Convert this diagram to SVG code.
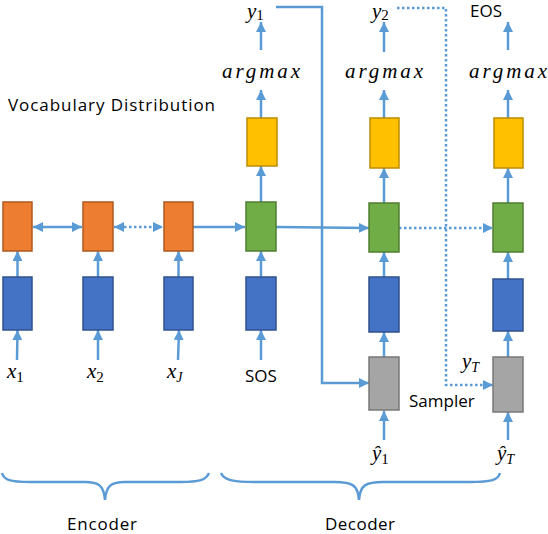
<svg xmlns="http://www.w3.org/2000/svg" width="548" height="534" viewBox="0 0 548 534">
<style>
.ln{stroke:#5B9BD5;stroke-width:2.5;fill:none}
.dt{stroke:#5B9BD5;stroke-width:2.5;fill:none;stroke-dasharray:2.5 2.5}
.or{fill:#ED7D31;stroke:#AE5A21;stroke-width:1.5}
.bl{fill:#4472C4;stroke:#2F528F;stroke-width:1.5}
.gr{fill:#70AD47;stroke:#507E32;stroke-width:1.5}
.ye{fill:#FFC000;stroke:#BC8C00;stroke-width:1.5}
.gy{fill:#A5A5A5;stroke:#787878;stroke-width:1.5}
.t{font-family:"Open Sans","Liberation Sans",sans-serif;font-size:17px;fill:#000}
.m{font-family:"Liberation Serif",serif;font-style:italic;font-size:21px;fill:#000}
.s{font-family:"Liberation Serif",serif;font-style:normal;font-size:15px;fill:#000}
.si{font-family:"Liberation Serif",serif;font-style:italic;font-size:14px;fill:#000}
</style>
<defs>
<marker id="ah" viewBox="0 0 10 10" refX="10" refY="5" markerWidth="4" markerHeight="4" orient="auto-start-reverse" markerUnits="strokeWidth">
<path d="M0,0 L10,5 L0,10 Z" fill="#5B9BD5"/>
</marker>
</defs>
<g id="connectors">
<line class="ln" x1="17" y1="360" x2="17.5" y2="330" marker-end="url(#ah)"/>
<line class="ln" x1="98" y1="360" x2="98" y2="330" marker-end="url(#ah)"/>
<line class="ln" x1="178" y1="360" x2="179" y2="330" marker-end="url(#ah)"/>
<line class="ln" x1="261" y1="360" x2="261" y2="330" marker-end="url(#ah)"/>
<line class="ln" x1="384" y1="440" x2="384" y2="411" marker-end="url(#ah)"/>
<line class="ln" x1="508" y1="440" x2="508" y2="412" marker-end="url(#ah)"/>
<line class="ln" x1="17.5" y1="277" x2="17.5" y2="251" marker-end="url(#ah)"/>
<line class="ln" x1="98" y1="277" x2="98" y2="251" marker-end="url(#ah)"/>
<line class="ln" x1="178.5" y1="277" x2="178.5" y2="251" marker-end="url(#ah)"/>
<line class="ln" x1="261" y1="277" x2="261" y2="251" marker-end="url(#ah)"/>
<line class="ln" x1="384" y1="277" x2="384" y2="252" marker-end="url(#ah)"/>
<line class="ln" x1="508" y1="279" x2="508" y2="252" marker-end="url(#ah)"/>
<line class="ln" x1="384" y1="357" x2="384" y2="332" marker-end="url(#ah)"/>
<line class="ln" x1="508" y1="357" x2="508" y2="331" marker-end="url(#ah)"/>
<line class="ln" x1="261" y1="202" x2="261" y2="166" marker-end="url(#ah)"/>
<line class="ln" x1="384" y1="203" x2="384" y2="168" marker-end="url(#ah)"/>
<line class="ln" x1="508" y1="203" x2="508" y2="168" marker-end="url(#ah)"/>
<line class="ln" x1="261" y1="118" x2="261" y2="90" marker-end="url(#ah)"/>
<line class="ln" x1="384" y1="118" x2="384" y2="90" marker-end="url(#ah)"/>
<line class="ln" x1="508" y1="118" x2="508" y2="90" marker-end="url(#ah)"/>
<line class="ln" x1="261" y1="50" x2="261" y2="22" marker-end="url(#ah)"/>
<line class="ln" x1="384" y1="52" x2="384" y2="22" marker-end="url(#ah)"/>
<line class="ln" x1="508" y1="50" x2="508" y2="22" marker-end="url(#ah)"/>
<line class="ln" x1="33" y1="227" x2="82" y2="227" marker-start="url(#ah)" marker-end="url(#ah)"/>
<line class="dt" x1="114" y1="227" x2="163" y2="227" marker-start="url(#ah)" marker-end="url(#ah)"/>
<line class="ln" x1="193" y1="227" x2="245" y2="227" marker-end="url(#ah)"/>
<line class="ln" x1="276" y1="227" x2="369" y2="228" marker-end="url(#ah)"/>
<line class="dt" x1="399" y1="228" x2="493" y2="228" marker-end="url(#ah)"/>
<polyline class="ln" points="276,7 322,7 322,383 369,383" marker-end="url(#ah)"/>
<polyline class="dt" points="397,8 446,8 446,385 493,385" marker-end="url(#ah)"/>
<path class="ln" d="M2,473 C4,480 10,482 30,482 L85,482 C98,482 104,485 105,500 C106,485 112,482 125,482 L180,482 C200,482 206,480 209,473"/>
<path class="ln" d="M221,473 C224,480 232,482 255,482 L335,482 C352,482 358,485 359,500 C360,485 366,482 383,482 L470,482 C492,482 498,480 500,473"/>
</g>
<g id="enc1"><rect class="or" x="3" y="202" width="29" height="49"/><rect class="bl" x="3" y="277" width="29" height="53"/></g>
<g id="enc2"><rect class="or" x="83" y="202" width="30" height="49"/><rect class="bl" x="83" y="277" width="30" height="53"/></g>
<g id="enc3"><rect class="or" x="164" y="202" width="29" height="49"/><rect class="bl" x="164" y="277" width="29" height="53"/></g>
<g id="dec1"><rect class="ye" x="247" y="118" width="30" height="48"/><rect class="gr" x="246" y="202" width="30" height="49"/><rect class="bl" x="246" y="277" width="30" height="53"/></g>
<g id="dec2"><rect class="ye" x="370" y="118" width="29" height="50"/><rect class="gr" x="369" y="203" width="30" height="49"/><rect class="bl" x="369" y="277" width="30" height="55"/><rect class="gy" x="369" y="357" width="30" height="53"/></g>
<g id="dec3"><rect class="ye" x="494" y="118" width="29" height="50"/><rect class="gr" x="493" y="203" width="30" height="49"/><rect class="bl" x="493" y="279" width="30" height="52"/><rect class="gy" x="493" y="357" width="30" height="55"/></g>
<g id="labels">
<text class="t" x="8" y="111" textLength="207">Vocabulary Distribution</text>
<text class="m" x="222" y="78" textLength="78" lengthAdjust="spacing">argmax</text>
<text class="m" x="345" y="78" textLength="78" lengthAdjust="spacing">argmax</text>
<text class="m" x="469" y="78" textLength="78" lengthAdjust="spacing">argmax</text>
<text class="m" x="247" y="18">y<tspan class="s" dy="2">1</tspan></text>
<text class="m" x="372" y="18">y<tspan class="s" dy="2">2</tspan></text>
<text class="t" x="470" y="17">EOS</text>
<text class="m" x="7" y="378">x<tspan class="s" dy="4">1</tspan></text>
<text class="m" x="87" y="378">x<tspan class="s" dy="4">2</tspan></text>
<text class="m" x="167" y="378">x<tspan class="si" dy="4">J</tspan></text>
<text class="t" x="245" y="382">SOS</text>
<text class="m" x="462" y="368">y<tspan class="si" dy="4">T</tspan></text>
<text class="t" x="409" y="407">Sampler</text>
<text class="m" x="372" y="460">ŷ<tspan class="s" dy="4">1</tspan></text>
<text class="m" x="497" y="460">ŷ<tspan class="si" dy="4">T</tspan></text>
<text class="t" x="67" y="530" textLength="70">Encoder</text>
<text class="t" x="325" y="530" textLength="70">Decoder</text>
</g>
</svg>
